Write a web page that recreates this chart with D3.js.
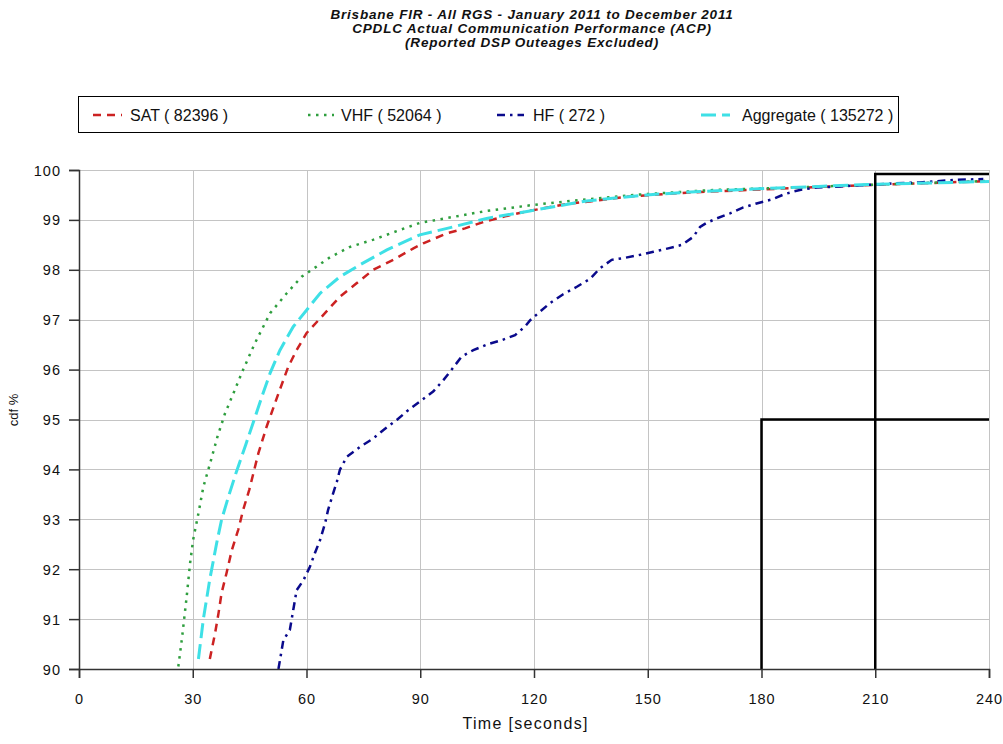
<!DOCTYPE html>
<html><head><meta charset="utf-8">
<script src="https://cdn.jsdelivr.net/npm/d3@7"></script>
<style>body{margin:0;background:#fff;} svg{display:block;}</style>
</head><body>
<svg id="c" width="1003" height="744"></svg>
<script>
const titleLines = ["Brisbane FIR - All RGS - January 2011 to December 2011",
  "CPDLC Actual Communication Performance (ACP)",
  "(Reported DSP Outeages Excluded)"];
const seriesNames = ["SAT ( 82396 )", "VHF ( 52064 )", "HF ( 272 )", "Aggregate ( 135272 )"];
const xTicks = [0, 30, 60, 90, 120, 150, 180, 210, 240];
const yTicks = [90, 91, 92, 93, 94, 95, 96, 97, 98, 99, 100];

const satPoints = [[34.5,90.2],[35.9,90.72],[36.8,91.12],[37.6,91.52],[38.9,91.92],[40.3,92.38],[42,92.79],[43.3,93.19],[44.9,93.59],[47.3,94.32],[49.5,94.86],[52.6,95.52],[55.2,96.06],[57.4,96.39],[60,96.73],[64,97.06],[68.8,97.46],[73.2,97.73],[77.6,98.0],[82.9,98.2],[88.2,98.43],[90.8,98.53],[97,98.73],[101.8,98.83],[107.1,98.97],[112.8,99.08],[118.1,99.17],[128.6,99.32],[134.8,99.37],[145.3,99.47],[161.1,99.55],[180,99.61],[195,99.66],[210,99.7],[225,99.74],[240,99.78]];
const vhfPoints = [[26.2,90.05],[27.1,90.58],[28.4,91.45],[29.3,92.12],[30.1,92.59],[31.5,93.12],[32.8,93.65],[34.5,94.1],[36.5,94.65],[38.5,95.12],[40.7,95.52],[43.3,96.0],[46.4,96.53],[50.4,97.13],[54.8,97.53],[58.7,97.86],[61.4,98.0],[66.2,98.25],[71.5,98.46],[77.5,98.6],[84.7,98.8],[89.9,98.94],[98.7,99.06],[107.5,99.18],[119.8,99.3],[132.1,99.4],[146.2,99.5],[167.3,99.6],[185,99.64],[200,99.68],[215,99.72],[240,99.78]];
const hfPoints = [[52.6,90.0],[53.9,90.58],[55.6,90.78],[56.5,91.18],[57.4,91.58],[59.2,91.78],[60.9,92.05],[62.2,92.32],[63.6,92.59],[64.9,92.92],[65.7,93.19],[66.9,93.49],[68,93.75],[68.8,93.99],[70.6,94.25],[74.1,94.45],[77.6,94.62],[80.3,94.79],[83.8,94.99],[86.4,95.16],[89.9,95.36],[93.4,95.56],[96.1,95.79],[97.8,95.95],[100.9,96.26],[104,96.39],[107.9,96.51],[111.5,96.59],[115,96.69],[117.6,96.86],[119,96.99],[121.1,97.13],[124.2,97.33],[127.7,97.51],[131.3,97.66],[134.8,97.82],[137.4,98.03],[140.5,98.2],[144,98.24],[148,98.3],[151.5,98.36],[155.4,98.43],[159,98.5],[162,98.66],[163.8,98.86],[165.5,98.94],[168.2,99.03],[171.7,99.13],[175.2,99.25],[178.7,99.33],[182.7,99.41],[186.2,99.52],[190.1,99.6],[194.6,99.65],[200.7,99.67],[207.7,99.7],[214.8,99.73],[221.8,99.75],[230.6,99.8],[238.5,99.82]];
const aggPoints = [[31.5,90.2],[32.8,91.0],[34.5,91.8],[36.3,92.52],[37.6,92.99],[39.4,93.45],[41.5,93.95],[44,94.5],[46,94.95],[48.2,95.45],[50.4,95.93],[53,96.39],[56.5,96.86],[60,97.19],[63.6,97.53],[68.8,97.86],[74.1,98.1],[81.2,98.4],[89.9,98.7],[98.7,98.86],[107.5,99.03],[118.9,99.18],[133.9,99.38],[149.7,99.5],[163.8,99.57],[181.4,99.63],[195,99.67],[207.7,99.71],[225,99.74],[240,99.77]];
const req180 = [[180,90],[180,95],[240,95]];
const req210 = [[210,90],[210,99.92],[240,99.92]];

const svg = d3.select("#c");
const pL = 79, pR = 989, pT = 170, pB = 669;
const x = d3.scaleLinear().domain([0,240]).range([pL,pR]);
const y = d3.scaleLinear().domain([90,100]).range([pB,pT]);
const font = "'Liberation Sans', Arial, sans-serif";

// title
svg.append("g").selectAll("text").data(titleLines).join("text")
  .attr("x", 532).attr("y", (d,i)=>19+i*14)
  .attr("text-anchor","middle").attr("font-family",font)
  .attr("font-size","13.5px").attr("font-weight","bold").attr("font-style","italic")
  .attr("letter-spacing","0.8px")
  .attr("fill","#111").text(d=>d);

// legend
svg.append("rect").attr("x",78.5).attr("y",96.5).attr("width",820).attr("height",36)
  .attr("fill","none").attr("stroke","#000").attr("stroke-width",1);

const styles = [
  {color:"#cc2222", dash:"8,6", width:2.5},
  {color:"#2e9e3e", dash:"2.5,5.5", width:2.5},
  {color:"#0a0a8c", dash:"8,5,2.5,5", width:2.5},
  {color:"#3ee0e6", dash:"15,6", width:3}
];
const legendPos = [
  {sx:93, sw:29, tx:130},
  {sx:308, sw:26, tx:341},
  {sx:497, sw:27, tx:533},
  {sx:701, sw:29, tx:742}
];
const lg = svg.append("g");
seriesNames.forEach((n,i)=>{
  const p = legendPos[i], s = styles[i];
  lg.append("line").attr("x1",p.sx).attr("x2",p.sx+p.sw).attr("y1",115).attr("y2",115)
    .attr("stroke",s.color).attr("stroke-width",s.width).attr("stroke-dasharray",s.dash);
  lg.append("text").attr("x",p.tx).attr("y",121).attr("font-family",font)
    .attr("font-size","16px").attr("fill","#111").text(n);
});

// grid
const grid = svg.append("g").attr("stroke","#c4c4c4").attr("stroke-width",1);
xTicks.filter(d=>d>0).forEach(t=>grid.append("line").attr("x1",Math.round(x(t))+0.5).attr("x2",Math.round(x(t))+0.5).attr("y1",pT).attr("y2",pB));
yTicks.filter(d=>d>90).forEach(t=>grid.append("line").attr("x1",pL).attr("x2",pR).attr("y1",Math.round(y(t))+0.5).attr("y2",Math.round(y(t))+0.5));

// clip
svg.append("clipPath").attr("id","clip").append("rect").attr("x",pL).attr("y",pT-2).attr("width",pR-pL+2).attr("height",pB-pT+2);

const line = d3.line().x(d=>x(d[0])).y(d=>y(d[1]));
const plot = svg.append("g").attr("clip-path","url(#clip)");
[satPoints, vhfPoints, hfPoints, aggPoints].forEach((pts,i)=>{
  const s = styles[i];
  plot.append("path").attr("d",line(pts)).attr("fill","none")
    .attr("stroke",s.color).attr("stroke-width",s.width).attr("stroke-dasharray",s.dash);
});

// requirement lines
[req180, req210].forEach(r=>{
  svg.append("path").attr("d",line(r)).attr("fill","none").attr("stroke","#000").attr("stroke-width",2.5);
});

// axes
const xAxis = svg.append("g").attr("transform",`translate(0,${pB})`)
  .call(d3.axisBottom(x).tickValues(xTicks).tickSize(9).tickPadding(16).tickFormat(d3.format("d")));
const yAxis = svg.append("g").attr("transform",`translate(${pL},0)`)
  .call(d3.axisLeft(y).tickValues(yTicks).tickSize(10).tickPadding(6).tickFormat(d3.format("d")));
[xAxis,yAxis].forEach(a=>{
  a.select(".domain").attr("stroke","#333").attr("stroke-width",1.5);
  a.selectAll(".tick line").attr("stroke","#333").attr("stroke-width",1.5);
  a.selectAll("text").attr("font-family",font).attr("font-size","14.5px").attr("fill","#111").attr("letter-spacing","1px");
});
yAxis.selectAll("text").attr("dy","0.35em").attr("dx","-2px");

// axis titles
svg.append("text").attr("x",525).attr("y",729).attr("text-anchor","middle")
  .attr("font-family",font).attr("font-size","16px").attr("fill","#111")
  .attr("textLength",125).attr("lengthAdjust","spacing").text("Time [seconds]");
svg.append("text").attr("transform","translate(18,410) rotate(-90)").attr("text-anchor","middle")
  .attr("font-family",font).attr("font-size","13px").attr("fill","#111").text("cdf %");
</script>
</body></html>
